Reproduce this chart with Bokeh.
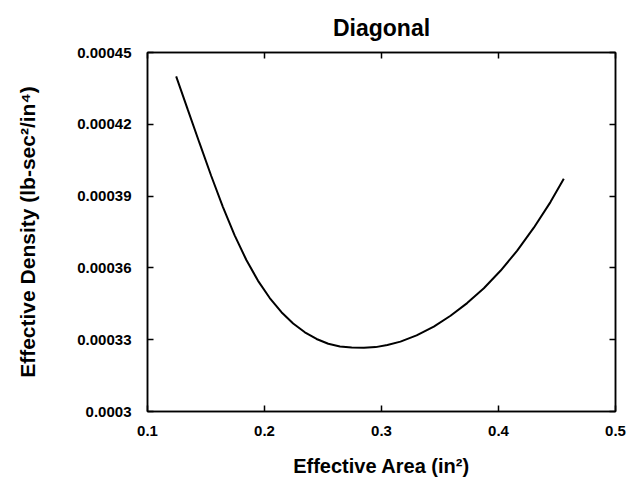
from bokeh.plotting import figure
from bokeh.models import LinearAxis, FixedTicker, Range1d
from bokeh.embed import file_html
from bokeh.resources import INLINE

# Data
area = [0.1245, 0.1345, 0.1445, 0.1545, 0.1645, 0.1745, 0.1845, 0.1945, 0.2045,
        0.2145, 0.2245, 0.2345, 0.2445, 0.2545, 0.2645, 0.2745, 0.2850,
        0.2950, 0.3050, 0.3162, 0.3300, 0.3447, 0.3590, 0.3732, 0.3875,
        0.4017, 0.4160, 0.4302, 0.4444, 0.4558]
density = [0.0004400, 0.0004260, 0.0004121, 0.0003984, 0.0003854, 0.0003736, 0.0003633,
           0.0003546, 0.0003474, 0.0003415, 0.0003368, 0.0003331, 0.0003303, 0.0003283,
           0.0003272, 0.0003267, 0.0003266, 0.0003269, 0.0003278, 0.0003292, 0.0003318,
           0.0003355, 0.0003400, 0.0003453, 0.0003515, 0.0003588, 0.0003672, 0.0003768,
           0.0003875, 0.0003972]

x_ticks = [0.1, 0.2, 0.3, 0.4, 0.5]
x_tick_labels = ["0.1", "0.2", "0.3", "0.4", "0.5"]
y_ticks = [0.0003, 0.00033, 0.00036, 0.00039, 0.00042, 0.00045]
y_tick_labels = ["0.0003", "0.00033", "0.00036", "0.00039", "0.00042", "0.00045"]

title_text = "Diagonal"
x_label = "Effective Area (in\u00b2)"
y_label = "Effective Density (lb-sec\u00b2/in\u2074)"

FONT = "Liberation Sans"

p = figure(frame_width=468, frame_height=359,
           x_range=Range1d(0.1, 0.5), y_range=Range1d(0.0003, 0.00045),
           min_border_left=147, min_border_right=20, min_border_top=52, min_border_bottom=70,
           output_backend="svg", toolbar_location=None, title=title_text)

p.background_fill_color = "white"
p.border_fill_color = "white"
p.grid.visible = False
p.outline_line_color = "black"
p.outline_line_width = 1.5

p.title.text_font = FONT
p.title.text_font_size = "23px"
p.title.text_font_style = "bold"
p.title.text_color = "black"
p.title.align = "center"
p.title.standoff = 24

p.line(area, density, line_color="black", line_width=2)


def style_axis(ax, ticks, labels, show_labels=True):
    ax.ticker = FixedTicker(ticks=ticks)
    ax.major_tick_in = 6
    ax.major_tick_out = 0
    ax.minor_tick_in = 0
    ax.minor_tick_out = 0
    ax.major_tick_line_width = 1.5
    ax.major_tick_line_color = "black"
    ax.axis_line_color = "black"
    ax.axis_line_width = 1.5
    ax.major_label_text_font = FONT
    ax.major_label_text_font_style = "bold"
    if show_labels:
        ax.major_label_overrides = {t: l for t, l in zip(ticks, labels)}
        ax.major_label_text_font_size = "15px"
        ax.major_label_text_color = "black"
    else:
        ax.major_label_overrides = {t: "" for t in ticks}
        ax.major_label_text_font_size = "1px"
        ax.major_label_text_color = None
        ax.major_label_standoff = 0


xa = p.xaxis[0]
style_axis(xa, x_ticks, x_tick_labels)
xa.major_label_standoff = 14
xa.axis_label = x_label
xa.axis_label_text_font = FONT
xa.axis_label_text_font_size = "20px"
xa.axis_label_text_font_style = "bold"
xa.axis_label_text_color = "black"
xa.axis_label_standoff = 16

ya = p.yaxis[0]
style_axis(ya, y_ticks, y_tick_labels)
ya.major_label_standoff = 16
ya.axis_label = y_label
ya.axis_label_text_font = FONT
ya.axis_label_text_font_size = "21px"
ya.axis_label_text_font_style = "bold"
ya.axis_label_text_color = "black"
ya.axis_label_standoff = 35

top = LinearAxis()
style_axis(top, x_ticks, x_tick_labels, show_labels=False)
p.add_layout(top, "above")

right = LinearAxis()
style_axis(right, y_ticks, y_tick_labels, show_labels=False)
p.add_layout(right, "right")

open("out.html", "w").write(file_html(p, INLINE))
